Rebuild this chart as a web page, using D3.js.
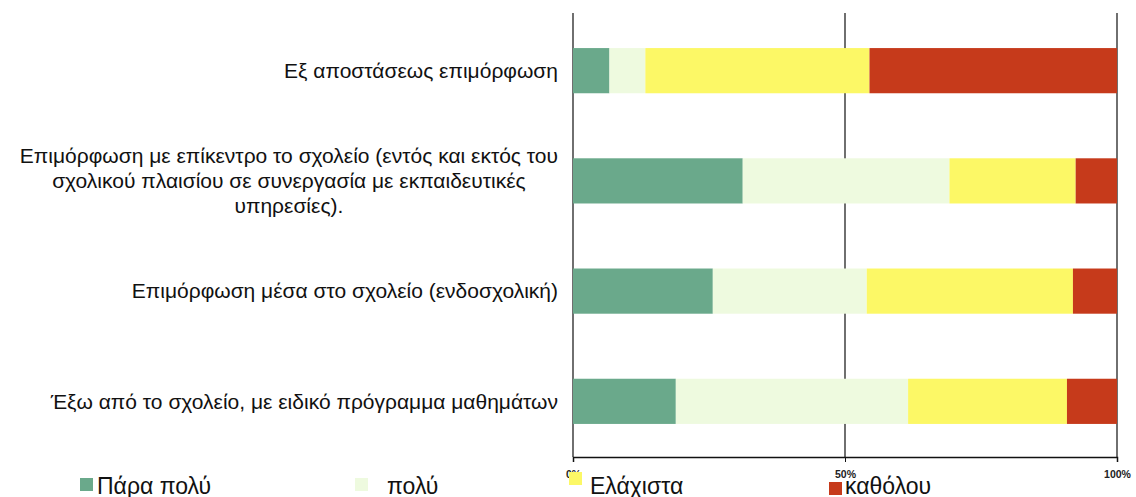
<!DOCTYPE html>
<html>
<head>
<meta charset="utf-8">
<script src="https://cdn.jsdelivr.net/npm/d3@7"></script>
<style>
  body { margin: 0; background: #fff; }
  text { font-family: "Liberation Sans", Arial, sans-serif; fill: #111; }
</style>
</head>
<body>
<svg id="chart" width="1136" height="497"></svg>
<script>
// categories, top to bottom (each entry is the list of wrapped lines)
var categories = [
    ["Εξ αποστάσεως επιμόρφωση"],
    ["Επιμόρφωση με επίκεντρο το σχολείο (εντός και εκτός του",
     "σχολικού πλαισίου σε συνεργασία με εκπαιδευτικές",
     "υπηρεσίες)."],
    ["Επιμόρφωση μέσα στο σχολείο (ενδοσχολική)"],
    ["Έξω από το σχολείο, με ειδικό πρόγραμμα μαθημάτων"]
];
var seriesNames = ["Πάρα πολύ", "πολύ", "Ελάχιστα", "καθόλου"];
var seriesColors = ["#6aa98b", "#eefadf", "#fcf866", "#c63a1b"];
// percentages per category
var paraPoly = [6.7, 31.2, 25.7, 18.9];
var poly     = [6.6, 38.0, 28.3, 42.7];
var elaxista = [41.2, 23.2, 37.9, 29.2];
var katholou = [45.5, 7.6, 8.1, 9.2];
var tickValues = [0, 50, 100];

var svg = d3.select("#chart");

var x = d3.scaleLinear().domain([0, 100]).range([573, 1117]);
var y = d3.scaleBand().domain(d3.range(categories.length)).range([15, 457]).paddingInner(0.59).paddingOuter(0.3);

var table = categories.map(function(c, i){
    return {i: i, vals: [paraPoly[i], poly[i], elaxista[i], katholou[i]]};
});

// vertical grid lines at the ticks
svg.append("g").selectAll("line").data(tickValues).join("line")
    .attr("x1", d => x(d)).attr("x2", d => x(d))
    .attr("y1", 13).attr("y2", 457)
    .style("stroke", "#222").style("stroke-width", 1.3);

// stacked bars
var rows = svg.append("g").selectAll("g").data(table).join("g");
rows.each(function(row){
    var acc = 0;
    var g = d3.select(this);
    row.vals.forEach(function(v, k){
        g.append("rect")
            .attr("x", x(acc)).attr("width", x(acc + v) - x(acc))
            .attr("y", y(row.i)).attr("height", y.bandwidth())
            .style("fill", seriesColors[k]);
        acc += v;
    });
});

// bottom axis
var axis = d3.axisBottom(x).tickValues(tickValues).tickFormat(d => d + "%").tickSize(5).tickPadding(9);
var ag = svg.append("g").attr("transform", "translate(0,457)").call(axis);
ag.select(".domain").style("stroke", "#111").style("stroke-width", 1.5);
ag.selectAll(".tick line").style("stroke", "#111");
ag.selectAll(".tick text").style("font-size", "10.5px").style("font-weight", "bold")
    .style("font-family", "'Liberation Sans', Arial, sans-serif").style("fill", "#222");

// category labels, centred lines in a block right-aligned to the axis
var labelRight = 558, lineH = 25;
categories.forEach(function(lines, i){
    var t = svg.append("text").style("font-size", "21px");
    var cy = y(i) + y.bandwidth() / 2;
    var top = cy - (lines.length - 1) * lineH / 2;
    var spans = lines.map(function(s, j){
        return t.append("tspan").attr("y", top + j * lineH).attr("dy", "0.35em").text(s);
    });
    var widths = spans.map(s => s.node().getComputedTextLength());
    var maxW = d3.max(widths);
    var cx = labelRight - maxW / 2;
    spans.forEach(function(s){ s.attr("x", cx).attr("text-anchor", "middle"); });
});

// legend (sits at the bottom edge, as in the original)
var legendX = [80, 355, 569, 829];
var legendY = [478, 478, 472, 482];
var textX = [17, 32, 21, 16];
var lg = svg.append("g").selectAll("g").data(seriesNames).join("g")
    .attr("transform", (d, k) => "translate(" + legendX[k] + "," + legendY[k] + ")");
lg.append("rect").attr("width", 13).attr("height", 13).style("fill", (d, k) => seriesColors[k]);
lg.append("text").attr("x", (d, k) => textX[k]).attr("y", (d, k) => 494 - legendY[k])
    .style("font-size", "23px").text(d => d);
</script>
</body>
</html>
